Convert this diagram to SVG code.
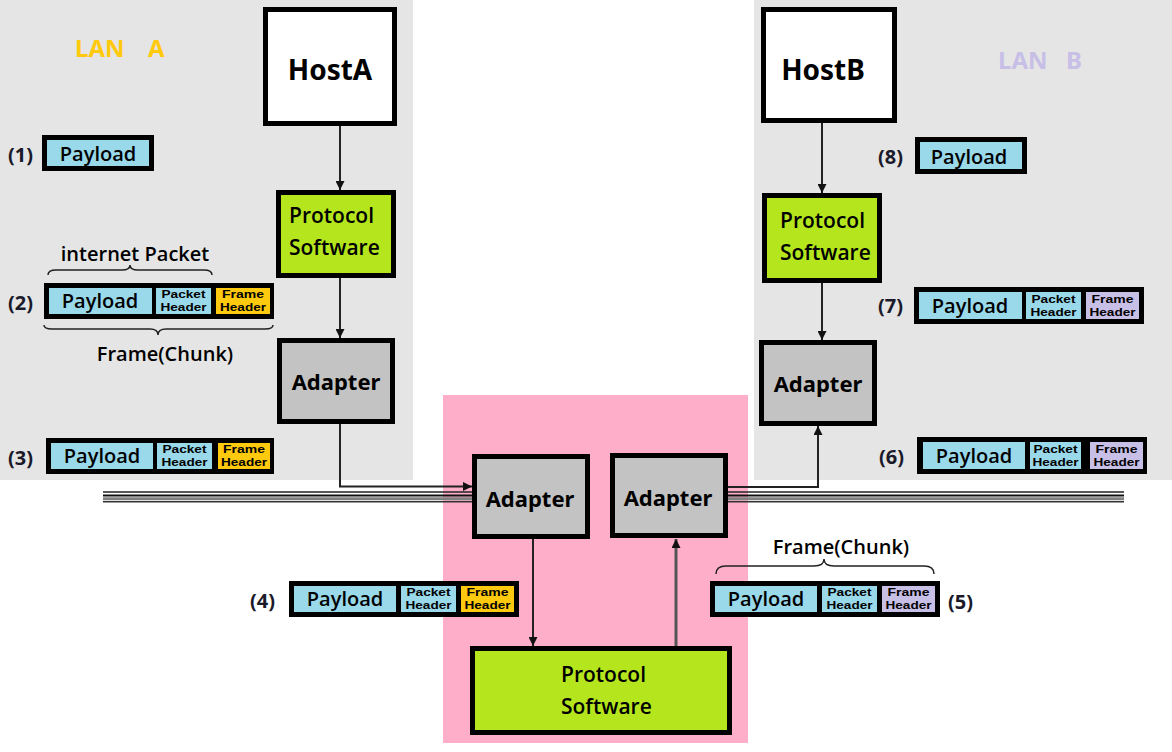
<svg xmlns="http://www.w3.org/2000/svg" width="1172" height="752" viewBox="0 0 1172 752">
<defs>
<style>
text{font-family:"Noto Sans","Open Sans","Liberation Sans",sans-serif;fill:#000}
.box{stroke:#000;stroke-width:5}
.host{fill:#fff}
.proto{fill:#B5E61D}
.adapt{fill:#C3C3C3}
.pay{fill:#99D9EA}
.fa{fill:#FFC90E}
.fb{fill:#C8BFE7}
.big{font-size:28px;font-weight:bold;text-anchor:middle}
.ad{font-size:22px;font-weight:bold;text-anchor:middle}
.pr{font-size:21px;font-family:"Open Sans","Noto Sans",sans-serif;font-weight:600}
.pl{font-size:20px;text-anchor:middle;font-family:"Open Sans","Noto Sans",sans-serif;font-weight:600}
.hd{font-size:11.5px;font-weight:bold;text-anchor:middle;font-family:"Liberation Sans","Noto Sans",sans-serif}
.num{font-size:20px;font-weight:bold;fill:#1a1a2a}
.lbl{font-size:20px;text-anchor:middle;font-family:"Open Sans","Noto Sans",sans-serif;font-weight:600}
.lan{font-size:24px;font-weight:bold}
.conn{fill:none;stroke:#222;stroke-width:2}
.brace{fill:none;stroke:#222;stroke-width:1.5}
</style>
<marker id="ah" viewBox="0 0 10 10" refX="10" refY="5" markerWidth="9" markerHeight="9" markerUnits="userSpaceOnUse" orient="auto"><path d="M0,0 L10,5 L0,10 z" fill="#111"/></marker>
</defs>

<!-- backgrounds -->
<rect x="0" y="0" width="413" height="480" fill="#E5E5E5"/>
<rect x="754" y="0" width="418" height="480" fill="#E5E5E5"/>
<rect x="443" y="395" width="305" height="348" fill="#FFAEC9"/>

<text class="lan" x="75" y="57" style="fill:#FFC90E">LAN<tspan x="148">A</tspan></text>
<text class="lan" x="998" y="69" style="fill:#C8BFE7">LAN<tspan x="1066">B</tspan></text>

<!-- bus -->
<g id="bus">
<path d="M103,492 H472 M728,492 H1124" stroke="#222" stroke-width="1.5"/>
<path d="M103,495.5 H472 M728,495.5 H1124" stroke="#111" stroke-width="2"/>
<path d="M103,498.8 H472 M728,498.8 H1124" stroke="#808080" stroke-width="3"/>
<path d="M103,501.8 H472 M728,501.8 H1124" stroke="#333" stroke-width="1.5"/>
</g>

<!-- connectors -->
<g id="connectors">
<path class="conn" d="M340,126 V190" marker-end="url(#ah)"/>
<path class="conn" d="M340,278 V338" marker-end="url(#ah)"/>
<path class="conn" d="M340,424 V486.5 H472" marker-end="url(#ah)"/>
<path class="conn" d="M822,123 V193" marker-end="url(#ah)"/>
<path class="conn" d="M822,283 V340" marker-end="url(#ah)"/>
<path class="conn" d="M728,487 H818 V426" marker-end="url(#ah)"/>
<path class="conn" d="M533,539 V646" stroke="#444" marker-end="url(#ah)"/>
<path class="conn" d="M676,646 V539" style="stroke:#555;stroke-width:3" marker-end="url(#ah)"/>
</g>

<!-- nodes -->
<g id="hostA"><rect class="box host" x="265.5" y="9.5" width="129" height="114"/><text class="big" x="330" y="80">HostA</text></g>
<g id="protoA"><rect class="box proto" x="278.5" y="192.5" width="115" height="83"/><text class="pr" x="289" y="223">Protocol</text><text class="pr" x="289" y="255">Software</text></g>
<g id="adapterA"><rect class="box adapt" x="279.5" y="340.5" width="113" height="81"/><text class="ad" x="336" y="390">Adapter</text></g>

<g id="hostB"><rect class="box host" x="763.5" y="9.5" width="131" height="111"/><text class="big" x="823" y="80">HostB</text></g>
<g id="protoB"><rect class="box proto" x="764.5" y="195.5" width="115" height="85"/><text class="pr" x="780" y="228">Protocol</text><text class="pr" x="780" y="260">Software</text></g>
<g id="adapterB"><rect class="box adapt" x="761.5" y="342.5" width="113" height="81"/><text class="ad" x="818" y="392">Adapter</text></g>

<g id="adapterM1"><rect class="box adapt" x="474.5" y="456.5" width="113" height="80"/><text class="ad" x="530" y="507">Adapter</text></g>
<g id="adapterM2"><rect class="box adapt" x="612.5" y="455.5" width="113" height="80"/><text class="ad" x="668" y="506">Adapter</text></g>
<g id="protoM"><rect class="box proto" x="472.5" y="648.5" width="257" height="84"/><text class="pr" x="561" y="682">Protocol</text><text class="pr" x="561" y="714">Software</text></g>

<!-- packets -->
<g id="pkt1">
<text class="num" x="8" y="162">(1)</text>
<rect class="box pay" x="44.5" y="137.5" width="107" height="31"/>
<text class="pl" x="98" y="161">Payload</text>
</g>

<g id="pkt2">
<text class="lbl" x="135" y="261">internet Packet</text>
<path class="brace" d="M48,275 Q48,270 56,270 L122,270 Q130,270 130,265 Q130,270 138,270 L204,270 Q212,270 212,275"/>
<text class="num" x="8" y="310">(2)</text>
<g transform="translate(44,283)">
<rect x="0" y="0" width="230" height="36" fill="#000"/>
<rect class="pay" x="5" y="5" width="103" height="26"/>
<rect class="pay" x="112" y="5" width="55" height="26"/>
<rect class="fa" x="172" y="5" width="54" height="26"/>
<text class="pl" x="56" y="25">Payload</text>
<text class="hd" x="139.5" y="15" textLength="44" lengthAdjust="spacingAndGlyphs">Packet</text><text class="hd" x="139.5" y="28" textLength="46" lengthAdjust="spacingAndGlyphs">Header</text>
<text class="hd" x="199" y="15" textLength="42" lengthAdjust="spacingAndGlyphs">Frame</text><text class="hd" x="199" y="28" textLength="46" lengthAdjust="spacingAndGlyphs">Header</text>
</g>
<path class="brace" d="M44,325 Q44,329 52,329 L150,329 Q158,329 158,335 Q158,329 166,329 L265,329 Q273,329 273,325"/>
<text class="lbl" x="165" y="361">Frame(Chunk)</text>
</g>

<g id="pkt3">
<text class="num" x="8" y="465">(3)</text>
<g transform="translate(46,438)">
<rect x="0" y="0" width="228" height="36" fill="#000"/>
<rect class="pay" x="5" y="5" width="102" height="26"/>
<rect class="pay" x="111" y="5" width="55" height="26"/>
<rect class="fa" x="172" y="5" width="52" height="26"/>
<text class="pl" x="56" y="25">Payload</text>
<text class="hd" x="138.5" y="15" textLength="44" lengthAdjust="spacingAndGlyphs">Packet</text><text class="hd" x="138.5" y="28" textLength="46" lengthAdjust="spacingAndGlyphs">Header</text>
<text class="hd" x="198" y="15" textLength="42" lengthAdjust="spacingAndGlyphs">Frame</text><text class="hd" x="198" y="28" textLength="46" lengthAdjust="spacingAndGlyphs">Header</text>
</g>
</g>

<g id="pkt4">
<text class="num" x="250" y="608">(4)</text>
<g transform="translate(289,581)">
<rect x="0" y="0" width="230" height="36" fill="#000"/>
<rect class="pay" x="5" y="5" width="102" height="26"/>
<rect class="pay" x="112" y="5" width="55" height="26"/>
<rect class="fa" x="172" y="5" width="53" height="26"/>
<text class="pl" x="56" y="25">Payload</text>
<text class="hd" x="139.5" y="15" textLength="44" lengthAdjust="spacingAndGlyphs">Packet</text><text class="hd" x="139.5" y="28" textLength="46" lengthAdjust="spacingAndGlyphs">Header</text>
<text class="hd" x="198.5" y="15" textLength="42" lengthAdjust="spacingAndGlyphs">Frame</text><text class="hd" x="198.5" y="28" textLength="46" lengthAdjust="spacingAndGlyphs">Header</text>
</g>
</g>

<g id="pkt5">
<text class="lbl" x="841" y="554">Frame(Chunk)</text>
<path class="brace" d="M716,574 Q716,566 726,566 L814,566 Q824,566 824,559 Q824,566 834,566 L924,566 Q934,566 934,574"/>
<g transform="translate(710,581)">
<rect x="0" y="0" width="230" height="36" fill="#000"/>
<rect class="pay" x="5" y="5" width="102" height="26"/>
<rect class="pay" x="112" y="5" width="55" height="26"/>
<rect class="fb" x="172" y="5" width="53" height="26"/>
<text class="pl" x="56" y="25">Payload</text>
<text class="hd" x="139.5" y="15" textLength="44" lengthAdjust="spacingAndGlyphs">Packet</text><text class="hd" x="139.5" y="28" textLength="46" lengthAdjust="spacingAndGlyphs">Header</text>
<text class="hd" x="198.5" y="15" textLength="42" lengthAdjust="spacingAndGlyphs">Frame</text><text class="hd" x="198.5" y="28" textLength="46" lengthAdjust="spacingAndGlyphs">Header</text>
</g>
<text class="num" x="948" y="609">(5)</text>
</g>

<g id="pkt6">
<text class="num" x="879" y="464">(6)</text>
<g transform="translate(917,437)">
<rect x="0" y="0" width="230" height="37" fill="#000"/>
<rect class="pay" x="6" y="5" width="102" height="27"/>
<rect class="pay" x="113" y="5" width="51" height="27"/>
<rect class="fb" x="173" y="5" width="53" height="27"/>
<text class="pl" x="57" y="26">Payload</text>
<text class="hd" x="138.5" y="16" textLength="44" lengthAdjust="spacingAndGlyphs">Packet</text><text class="hd" x="138.5" y="29" textLength="46" lengthAdjust="spacingAndGlyphs">Header</text>
<text class="hd" x="199.5" y="16" textLength="42" lengthAdjust="spacingAndGlyphs">Frame</text><text class="hd" x="199.5" y="29" textLength="46" lengthAdjust="spacingAndGlyphs">Header</text>
</g>
</g>

<g id="pkt7">
<text class="num" x="878" y="313">(7)</text>
<g transform="translate(914,287)">
<rect x="0" y="0" width="230" height="37" fill="#000"/>
<rect class="pay" x="5" y="5" width="103" height="27"/>
<rect class="pay" x="112" y="5" width="55" height="27"/>
<rect class="fb" x="172" y="5" width="53" height="27"/>
<text class="pl" x="56" y="26">Payload</text>
<text class="hd" x="139.5" y="16" textLength="44" lengthAdjust="spacingAndGlyphs">Packet</text><text class="hd" x="139.5" y="29" textLength="46" lengthAdjust="spacingAndGlyphs">Header</text>
<text class="hd" x="198.5" y="16" textLength="42" lengthAdjust="spacingAndGlyphs">Frame</text><text class="hd" x="198.5" y="29" textLength="46" lengthAdjust="spacingAndGlyphs">Header</text>
</g>
</g>

<g id="pkt8">
<text class="num" x="878" y="164">(8)</text>
<rect class="box pay" x="917.5" y="139.5" width="107" height="32"/>
<text class="pl" x="969" y="164">Payload</text>
</g>
</svg>
